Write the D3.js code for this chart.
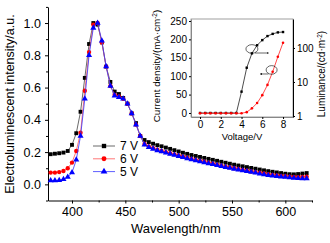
<!DOCTYPE html>
<html>
<head>
<meta charset="utf-8">
<script src="https://cdn.jsdelivr.net/npm/d3@7"></script>
<style>
  body { margin: 0; background: #fff; }
  svg { display: block; font-family: "Liberation Sans", Arial, sans-serif; }
</style>
</head>
<body>
<script>
// spectra, 4 nm steps
var wavelength = d3.range(380, 621, 4);
var el7V = [0.187, 0.190, 0.193, 0.197, 0.207, 0.245, 0.317, 0.45, 0.66, 0.87, 1.0, 0.99, 0.88, 0.73, 0.635, 0.575, 0.56, 0.535, 0.50, 0.44, 0.38, 0.30, 0.275, 0.262, 0.252, 0.243, 0.236, 0.228, 0.22, 0.212, 0.204, 0.196, 0.189, 0.182, 0.176, 0.170, 0.164, 0.158, 0.152, 0.146, 0.140, 0.134, 0.128, 0.122, 0.117, 0.112, 0.107, 0.102, 0.097, 0.092, 0.087, 0.082, 0.078, 0.074, 0.070, 0.066, 0.063, 0.062, 0.064, 0.067, 0.070];
var el6V = [0.073, 0.073, 0.076, 0.083, 0.10, 0.135, 0.207, 0.32, 0.58, 0.82, 0.99, 1.0, 0.88, 0.73, 0.61, 0.555, 0.545, 0.53, 0.50, 0.44, 0.37, 0.30, 0.25, 0.235, 0.225, 0.215, 0.207, 0.20, 0.193, 0.186, 0.179, 0.172, 0.165, 0.158, 0.152, 0.146, 0.140, 0.134, 0.128, 0.122, 0.116, 0.110, 0.105, 0.100, 0.095, 0.090, 0.085, 0.080, 0.076, 0.072, 0.067, 0.063, 0.059, 0.056, 0.053, 0.050, 0.048, 0.046, 0.045, 0.046, 0.047];
var el5V = [0.024, 0.024, 0.025, 0.032, 0.045, 0.073, 0.152, 0.30, 0.53, 0.80, 0.97, 1.0, 0.89, 0.73, 0.61, 0.55, 0.54, 0.53, 0.50, 0.44, 0.37, 0.30, 0.245, 0.23, 0.22, 0.21, 0.203, 0.196, 0.189, 0.182, 0.175, 0.168, 0.161, 0.154, 0.148, 0.142, 0.136, 0.130, 0.124, 0.118, 0.112, 0.106, 0.101, 0.096, 0.091, 0.086, 0.081, 0.076, 0.072, 0.066, 0.061, 0.057, 0.053, 0.050, 0.047, 0.045, 0.042, 0.040, 0.038, 0.037, 0.037];
var legendLabels = ["7 V", "6 V", "5 V"];
var xTicks = [400, 450, 500, 550, 600];
var yTicks = [0, 0.2, 0.4, 0.6, 0.8, 1.0];

// inset: J-V-L
var voltage = d3.range(0, 8.01, 0.5);
var currentDensity = [0, 0, 0, 0, 0, 0, 0, 0, 58, 123, 162, 184, 198, 209, 215, 219, 220];
var luminance = [1.2, 1.2, 1.2, 1.2, 1.2, 1.2, 1.2, 1.2, 1.2, 1.3, 1.68, 2.4, 4.1, 8.2, 20, 55, 143];
var insetXTicks = [0, 2, 4, 6, 8];
var insetYTicks = [0, 50, 100, 150, 200, 250];
var insetLogTicks = [1, 10, 100];

var width = 330, height = 243;
var svg = d3.select("body").append("svg").attr("width", width).attr("height", height);

var x = d3.scaleLinear().domain([377.5, 625]).range([48, 312]);
var y = d3.scaleLinear().domain([-0.1, 1.1]).range([200.5, 6.9]);

// axes
svg.append("g").attr("transform", "translate(0," + y(-0.1) + ")")
  .call(d3.axisBottom(x).tickValues(xTicks).tickSize(3).tickSizeOuter(0).tickPadding(4));
svg.append("g").attr("transform", "translate(0," + y(-0.1) + ")")
  .call(d3.axisBottom(x).tickValues([425, 475, 525, 575, 625]).tickSize(2).tickSizeOuter(0).tickFormat(""))
  .select(".domain").remove();
svg.append("g").attr("transform", "translate(" + x(377.5) + ",0)")
  .call(d3.axisLeft(y).tickValues(yTicks).tickSize(3).tickSizeOuter(0).tickPadding(4).tickFormat(d3.format(".1f")));
svg.append("g").attr("transform", "translate(" + x(377.5) + ",0)")
  .call(d3.axisLeft(y).tickValues([-0.1, 0.1, 0.3, 0.5, 0.7, 0.9, 1.1]).tickSize(2).tickSizeOuter(0).tickFormat(""))
  .select(".domain").remove();
svg.selectAll(".tick text").attr("font-size", 12.5).attr("font-family", null).attr("fill", "#000");
svg.selectAll(".domain, .tick line").attr("stroke", "#000");

svg.append("text").attr("x", 176).attr("y", 233).attr("text-anchor", "middle")
  .attr("font-size", 13).text("Wavelength/nm");
svg.append("text").attr("transform", "translate(14,104) rotate(-90)").attr("text-anchor", "middle")
  .attr("font-size", 12.5).text("Electroluminescent intensity/a.u.");

// spectra
var series = [
  { values: el7V, line: "#444", fill: "#000", sym: d3.symbolSquare, size: 15 },
  { values: el6V, line: "#ff5555", fill: "#ff0000", sym: d3.symbolCircle, size: 15 },
  { values: el5V, line: "#3333ff", fill: "#0000ff", sym: d3.symbolTriangle, size: 16 }
];
var line = d3.line().x(function(d, i) { return x(wavelength[i]); }).y(function(d) { return y(d); });

series.forEach(function(s) {
  svg.append("path").attr("d", line(s.values)).attr("fill", "none").attr("stroke", s.line).attr("stroke-width", 0.8);
  svg.append("g").selectAll("path").data(s.values).join("path")
    .attr("transform", function(d, i) { return "translate(" + x(wavelength[i]) + "," + y(d) + ")"; })
    .attr("d", d3.symbol().type(s.sym).size(s.size))
    .attr("fill", s.fill);
});

// legend
series.forEach(function(s, i) {
  var ly = 146 + i * 12.8;
  svg.append("line").attr("x1", 93).attr("x2", 115).attr("y1", ly).attr("y2", ly)
    .attr("stroke", s.line).attr("stroke-width", 0.8);
  svg.append("path").attr("transform", "translate(104," + ly + ")")
    .attr("d", d3.symbol().type(s.sym).size(s.size + 4)).attr("fill", s.fill);
  svg.append("text").attr("x", 120).attr("y", ly).attr("dy", "0.36em")
    .attr("font-size", 12).text(legendLabels[i]);
});

// inset
var ix = d3.scaleLinear().domain([-0.87, 8.96]).range([191, 293]);
var iy = d3.scaleLinear().domain([-10.9, 255.4]).range([117, 19]);
var iyL = d3.scaleLog().domain([0.935, 710]).range([117, 19]);

var inset = svg.append("g");
inset.append("rect").attr("x", 191).attr("y", 19).attr("width", 102).attr("height", 98)
  .attr("fill", "#fff").attr("stroke", "#888").attr("stroke-width", 0.8);

var ixAxis = inset.append("g").attr("transform", "translate(0,117)")
  .call(d3.axisBottom(ix).tickValues(insetXTicks).tickSize(2).tickSizeOuter(0).tickPadding(2));
var iyAxis = inset.append("g").attr("transform", "translate(191,0)")
  .call(d3.axisLeft(iy).tickValues(insetYTicks).tickSize(2).tickSizeOuter(0).tickPadding(2));
var irAxis = inset.append("g").attr("transform", "translate(293,0)")
  .call(d3.axisRight(iyL).tickValues(insetLogTicks).tickSize(2).tickSizeOuter(0).tickPadding(2)
    .tickFormat(d3.format("d")));
ixAxis.select(".domain").attr("stroke", "#888");
iyAxis.select(".domain").attr("stroke", "#888");
irAxis.select(".domain").attr("stroke", "#000");
inset.selectAll(".tick line").attr("stroke", "#000");
inset.selectAll(".tick text").attr("font-family", null).attr("fill", "#000").attr("font-size", 10);
irAxis.selectAll(".tick text").attr("font-size", 10);

inset.append("text").attr("x", 242).attr("y", 140).attr("text-anchor", "middle")
  .attr("font-size", 9.5).text("Voltage/V");

var t1 = inset.append("text").attr("transform", "translate(160,66) rotate(-90)")
  .attr("text-anchor", "middle").attr("font-size", 9.8);
t1.append("tspan").text("Current density/(mA·cm");
t1.append("tspan").attr("dy", -3.5).attr("font-size", 6.5).text("-2");
t1.append("tspan").attr("dy", 3.5).text(")");

var t2 = inset.append("text").attr("transform", "translate(325,74) rotate(-90)")
  .attr("text-anchor", "middle").attr("font-size", 10);
t2.append("tspan").text("Luminance/(cd·m");
t2.append("tspan").attr("dy", -3.5).attr("font-size", 6.5).text("-2");
t2.append("tspan").attr("dy", 3.5).text(")");

var jLine = d3.line().x(function(d, i) { return ix(voltage[i]); }).y(function(d) { return iy(d); });
var lLine = d3.line().x(function(d, i) { return ix(voltage[i]); }).y(function(d) { return iyL(d); });

inset.append("path").attr("d", jLine(currentDensity)).attr("fill", "none").attr("stroke", "#000").attr("stroke-width", 0.7);
inset.append("g").selectAll("rect").data(currentDensity).join("rect")
  .attr("x", function(d, i) { return ix(voltage[i]) - 1.2; })
  .attr("y", function(d) { return iy(d) - 1.2; })
  .attr("width", 2.4).attr("height", 2.4).attr("fill", "#000");

inset.append("path").attr("d", lLine(luminance)).attr("fill", "none").attr("stroke", "#ff0000").attr("stroke-width", 0.7);
inset.append("g").selectAll("circle").data(luminance).join("circle")
  .attr("cx", function(d, i) { return ix(voltage[i]); })
  .attr("cy", function(d) { return iyL(d); })
  .attr("r", 1.3).attr("fill", "#ff0000");

// annotation circles + arrows
var defs = svg.append("defs");
defs.append("marker").attr("id", "arr").attr("viewBox", "0 0 6 6").attr("refX", 5).attr("refY", 3)
  .attr("markerWidth", 4).attr("markerHeight", 4).attr("orient", "auto")
  .append("path").attr("d", "M0,0.5 L6,3 L0,5.5 Z").attr("fill", "#000");

inset.append("ellipse").attr("cx", ix(5.0)).attr("cy", iy(174)).attr("rx", 6).attr("ry", 4.3)
  .attr("fill", "none").attr("stroke", "#000").attr("stroke-width", 0.6);
inset.append("line").attr("x1", ix(5.3)).attr("x2", ix(6.6)).attr("y1", iy(163)).attr("y2", iy(163))
  .attr("stroke", "#000").attr("stroke-width", 0.6).attr("marker-end", "url(#arr)");

inset.append("ellipse").attr("cx", ix(6.9)).attr("cy", iyL(22.6)).attr("rx", 5.5).attr("ry", 4.3)
  .attr("fill", "none").attr("stroke", "#000").attr("stroke-width", 0.6);
inset.append("line").attr("x1", ix(6.6)).attr("x2", ix(5.8)).attr("y1", iyL(17.2)).attr("y2", iyL(17.2))
  .attr("stroke", "#000").attr("stroke-width", 0.6).attr("marker-end", "url(#arr)");
</script>
</body>
</html>
